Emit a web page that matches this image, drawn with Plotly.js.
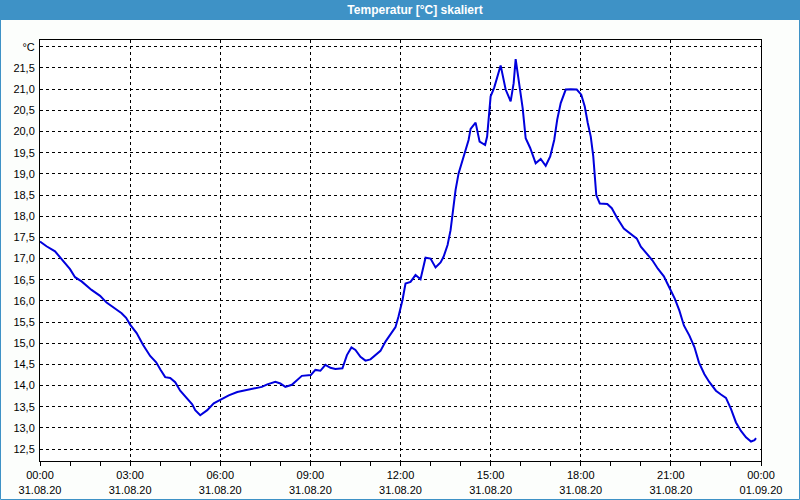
<!DOCTYPE html>
<html>
<head>
<meta charset="utf-8">
<script src="https://cdn.plot.ly/plotly-3.0.1.min.js"></script>
<style>html,body{margin:0;padding:0;background:#fcfefc;} #chart{width:800px;height:500px;}</style>
</head>
<body>
<div id="chart"></div>
<script>
// Time of day (31.08.20) and temperature in °C
var times = ["00:00","00:13","00:30","00:37","00:47","01:00","01:10","01:23","01:43","02:00",
  "02:13","02:30","02:43","02:52","03:00","03:13","03:26","03:40","03:52","04:01",
  "04:10","04:20","04:30","04:40","04:53","05:04","05:10","05:20","05:34","05:47",
  "06:01","06:17","06:34","06:50","07:07","07:23","07:34","07:50","08:00","08:10",
  "08:23","08:34","08:43","09:01","09:10","09:20","09:30","09:40","09:50","10:04",
  "10:13","10:22","10:30","10:40","10:50","11:00","11:10","11:20","11:30","11:40",
  "11:50","11:56","12:04","12:10","12:20","12:30","12:40","12:50","13:00","13:10",
  "13:20","13:26","13:34","13:40","13:46","13:50","13:56","14:04","14:10","14:16",
  "14:20","14:30","14:38","14:49","14:53","15:00","15:07","15:13","15:20","15:30",
  "15:40","15:46","15:50","15:53","15:59","16:04","16:10","16:19","16:30","16:40",
  "16:50","16:59","17:07","17:13","17:20","17:30","17:40","17:52","18:01","18:08",
  "18:14","18:20","18:25","18:28","18:31","18:38","18:53","19:02","19:13","19:26",
  "19:40","19:52","20:00","20:13","20:23","20:34","20:46","20:53","21:00","21:08",
  "21:17","21:26","21:37","21:47","21:56","22:07","22:17","22:30","22:40","22:50",
  "23:00","23:10","23:20","23:30","23:40","23:47","23:50"];
var temps = [17.40,17.29,17.17,17.07,16.93,16.75,16.56,16.46,16.26,16.12,
  15.96,15.83,15.71,15.60,15.44,15.24,14.96,14.70,14.55,14.37,
  14.20,14.18,14.08,13.88,13.72,13.56,13.42,13.30,13.42,13.58,
  13.67,13.77,13.85,13.89,13.93,13.97,14.03,14.09,14.05,13.97,
  14.02,14.13,14.23,14.25,14.37,14.35,14.49,14.42,14.39,14.41,
  14.72,14.90,14.84,14.68,14.59,14.62,14.72,14.82,15.04,15.21,
  15.38,15.63,16.02,16.41,16.45,16.61,16.51,17.02,17.00,16.79,
  16.91,17.04,17.32,17.67,18.22,18.62,19.01,19.33,19.53,19.80,
  20.06,20.21,19.76,19.68,19.88,20.83,21.03,21.30,21.56,20.99,
  20.71,21.14,21.71,21.46,20.99,20.55,19.84,19.61,19.25,19.35,
  19.19,19.41,19.80,20.28,20.67,20.99,21.00,20.99,20.87,20.59,
  20.20,19.88,19.41,18.97,18.50,18.30,18.29,18.19,17.95,17.71,
  17.58,17.47,17.28,17.10,16.96,16.76,16.58,16.41,16.25,16.05,
  15.77,15.42,15.18,14.91,14.55,14.27,14.08,13.88,13.79,13.71,
  13.45,13.13,12.93,12.78,12.68,12.71,12.76];

var xTickVals = ["2020-08-31 00:00","2020-08-31 03:00","2020-08-31 06:00","2020-08-31 09:00",
  "2020-08-31 12:00","2020-08-31 15:00","2020-08-31 18:00","2020-08-31 21:00","2020-09-01 00:00"];
var xTickTimes = ["00:00","03:00","06:00","09:00","12:00","15:00","18:00","21:00","00:00"];
var xTickDates = ["31.08.20","31.08.20","31.08.20","31.08.20","31.08.20","31.08.20","31.08.20","31.08.20","01.09.20"];
var yTickVals = [12.5,13.0,13.5,14.0,14.5,15.0,15.5,16.0,16.5,17.0,17.5,18.0,18.5,19.0,19.5,20.0,20.5,21.0,21.5,22.0];
var yTickText = ["12,5","13,0","13,5","14,0","14,5","15,0","15,5","16,0","16,5","17,0","17,5","18,0","18,5","19,0","19,5","20,0","20,5","21,0","21,5","°C"];

var xs = times.map(function(t){ return "2020-08-31 " + t; });
var xTickText = xTickTimes.map(function(t,i){ return t + "<br>" + xTickDates[i]; });

var W = 800, H = 500, mL = 40, mR = 39, mT = 40, mB = 39;
var pw = W - mL - mR, ph = H - mT - mB;
function px2x(p){ return (p - mL) / pw; }
function py2y(p){ return (H - mB - p) / ph; }
var blue = "#3e92c6";

var trace = {
  x: xs, y: temps, type: "scatter", mode: "lines",
  line: {color: "#0000dd", width: 2},
  hoverinfo: "x+y"
};

var layout = {
  width: W, height: H,
  margin: {l: mL, r: mR, t: mT, b: mB, pad: 0},
  paper_bgcolor: "#fcfefc",
  plot_bgcolor: "#ffffff",
  showlegend: false,
  font: {family: "Liberation Sans, Arial, sans-serif", size: 11, color: "#000000"},
  title: {
    text: "Temperatur [°C] skaliert",
    xref: "container", yref: "container", x: 415/800, y: 1 - 10/500,
    xanchor: "center", yanchor: "middle",
    font: {family: "Liberation Sans, Arial, sans-serif", size: 12, color: "#ffffff", weight: "bold"}
  },
  xaxis: {
    type: "date",
    range: ["2020-08-31 00:00", "2020-09-01 00:00"],
    tickmode: "array", tickvals: xTickVals, ticktext: xTickText,
    tickangle: 0,
    ticks: "outside", ticklen: 4, tickcolor: "#000000",
    minor: {dtick: 3600000, ticks: "outside", ticklen: 4, tickcolor: "#000000", showgrid: false},
    showgrid: true, gridcolor: "#000000", gridwidth: 1, griddash: "3px,3px",
    showline: true, linecolor: "#000000", linewidth: 1, mirror: true,
    zeroline: false, fixedrange: true
  },
  yaxis: {
    range: [12.22, 22.16],
    tickmode: "array", tickvals: yTickVals, ticktext: yTickText,
    ticks: "", ticklabelstandoff: 2,
    showgrid: true, gridcolor: "#000000", gridwidth: 1, griddash: "3px,3px",
    showline: true, linecolor: "#000000", linewidth: 1, mirror: true,
    zeroline: false, fixedrange: true
  },
  shapes: [
    {type: "rect", xref: "paper", yref: "paper",
     x0: px2x(0), x1: px2x(W), y0: py2y(20), y1: py2y(0),
     fillcolor: blue, line: {width: 0}, layer: "below"},
    {type: "rect", xref: "paper", yref: "paper",
     x0: px2x(0.5), x1: px2x(W - 0.5), y0: py2y(H - 0.5), y1: py2y(0.5),
     fillcolor: "rgba(0,0,0,0)", line: {color: blue, width: 1}, layer: "above"}
  ]
};

Plotly.newPlot("chart", [trace], layout, {displayModeBar: false, staticPlot: true});
</script>
</body>
</html>
